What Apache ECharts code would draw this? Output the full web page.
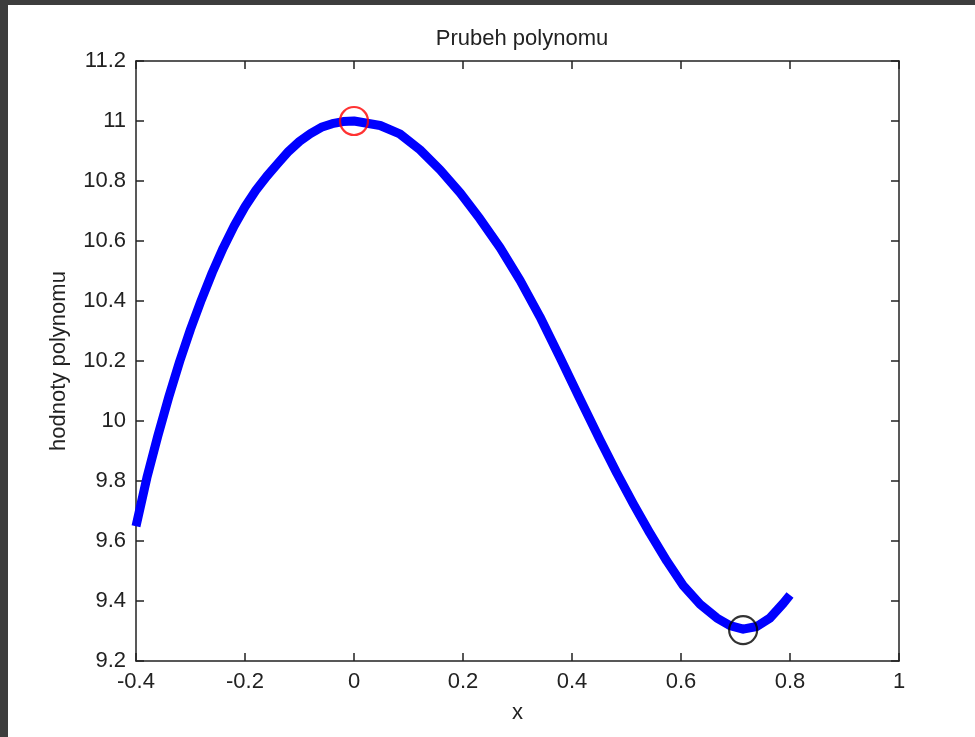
<!DOCTYPE html>
<html>
<head>
<meta charset="utf-8">
<script src="https://cdn.jsdelivr.net/npm/echarts@6/dist/echarts.min.js"></script>
<style>
html,body{margin:0;padding:0;background:#ffffff;}
#c{width:975px;height:737px;}
</style>
</head>
<body>
<div id="c"></div>
<script>
// Curve readings (x, polynomial value)
var curveX = [-0.4, -0.38, -0.36, -0.34, -0.32, -0.30, -0.28, -0.26, -0.24, -0.22, -0.20, -0.18, -0.16, -0.14, -0.12, -0.10, -0.08, -0.06, -0.04, -0.02, 0,
  0.048, 0.084, 0.121, 0.158, 0.195, 0.231, 0.268, 0.305, 0.341, 0.378, 0.4115, 0.4514, 0.482, 0.5125, 0.543, 0.574, 0.604, 0.635, 0.666, 0.69, 0.714, 0.739, 0.763, 0.788, 0.8];
var curveY = [9.649, 9.811, 9.95, 10.079, 10.198, 10.306, 10.404, 10.495, 10.577, 10.65, 10.714, 10.769, 10.816, 10.858, 10.899, 10.932, 10.958, 10.979, 10.991, 10.998, 11.0,
  10.985, 10.957, 10.904, 10.837, 10.76, 10.674, 10.578, 10.468, 10.348, 10.212, 10.085, 9.937, 9.827, 9.724, 9.626, 9.533, 9.452, 9.389, 9.343, 9.318, 9.306, 9.315, 9.343, 9.393, 9.42];
// Extremes
var maxPoint = [0, 11.0];
var minPoint = [0.714, 9.303];
// Axis settings
var xTicks = [-0.4, -0.2, 0, 0.2, 0.4, 0.6, 0.8, 1];
var yTicks = [9.2, 9.4, 9.6, 9.8, 10, 10.2, 10.4, 10.6, 10.8, 11, 11.2];
var titleText = 'Prubeh polynomu';
var xName = 'x';
var yName = 'hodnoty polynomu';

var curveData = curveX.map(function (x, i) { return [x, curveY[i]]; });
var FONT = 'Liberation Sans, Arial, sans-serif';
var AX = '#222222';
var FS = 22;
function fmt(v) { return String(+(+v).toFixed(1)); }

var chart = echarts.init(document.getElementById('c'), null, {renderer: 'canvas'});
var axisCommon = {
  type: 'value',
  axisLine: {show: true, onZero: false, lineStyle: {color: AX, width: 1.5}},
  axisTick: {show: true, inside: true, length: 8, lineStyle: {color: AX, width: 1.5}},
  splitLine: {show: false},
  axisLabel: {show: false}
};
function ax(extra) { return Object.assign({}, JSON.parse(JSON.stringify(axisCommon)), extra); }

chart.setOption({
  animation: false,
  backgroundColor: '#ffffff',
  title: {
    text: titleText, left: 517, top: 23, textAlign: 'center',
    textStyle: {fontFamily: FONT, fontSize: FS, fontWeight: 'normal', color: AX}
  },
  grid: {left: 136, top: 61, width: 763, height: 600, containLabel: false},
  xAxis: [
    ax({position: 'bottom', min: xTicks[0], max: xTicks[xTicks.length - 1], interval: 0.2,
      axisLabel: {show: true, color: AX, fontFamily: FONT, fontSize: FS, margin: 10, formatter: fmt},
      name: xName, nameLocation: 'middle', nameGap: 41,
      nameTextStyle: {fontFamily: FONT, fontSize: FS, color: AX}}),
    ax({position: 'top', min: xTicks[0], max: xTicks[xTicks.length - 1], interval: 0.2})
  ],
  yAxis: [
    ax({position: 'left', min: yTicks[0], max: yTicks[yTicks.length - 1], interval: 0.2,
      axisLabel: {show: true, color: AX, fontFamily: FONT, fontSize: FS, margin: 10, formatter: fmt},
      name: yName, nameLocation: 'middle', nameGap: 66,
      nameTextStyle: {fontFamily: FONT, fontSize: FS, color: AX}}),
    ax({position: 'right', min: yTicks[0], max: yTicks[yTicks.length - 1], interval: 0.2})
  ],
  graphic: [
    {type: 'rect', left: 0, top: 0, shape: {width: 975, height: 5}, style: {fill: '#3d3d3d'}, z: 100},
    {type: 'rect', left: 0, top: 0, shape: {width: 8, height: 737}, style: {fill: '#3d3d3d'}, z: 100}
  ],
  series: [
    {
      type: 'line', xAxisIndex: 0, yAxisIndex: 0, data: curveData,
      showSymbol: false, smooth: false, clip: false,
      lineStyle: {color: '#0000ff', width: 9, join: 'round'}, z: 2
    },
    {
      type: 'scatter', xAxisIndex: 0, yAxisIndex: 0, data: [maxPoint],
      symbol: 'circle', symbolSize: 28,
      itemStyle: {color: 'rgba(0,0,0,0)', borderColor: '#ff0000', borderWidth: 2.2}, z: 3
    },
    {
      type: 'scatter', xAxisIndex: 0, yAxisIndex: 0, data: [minPoint],
      symbol: 'circle', symbolSize: 28,
      itemStyle: {color: 'rgba(0,0,0,0)', borderColor: '#000000', borderWidth: 2.2}, z: 3
    }
  ]
});
</script>
</body>
</html>
